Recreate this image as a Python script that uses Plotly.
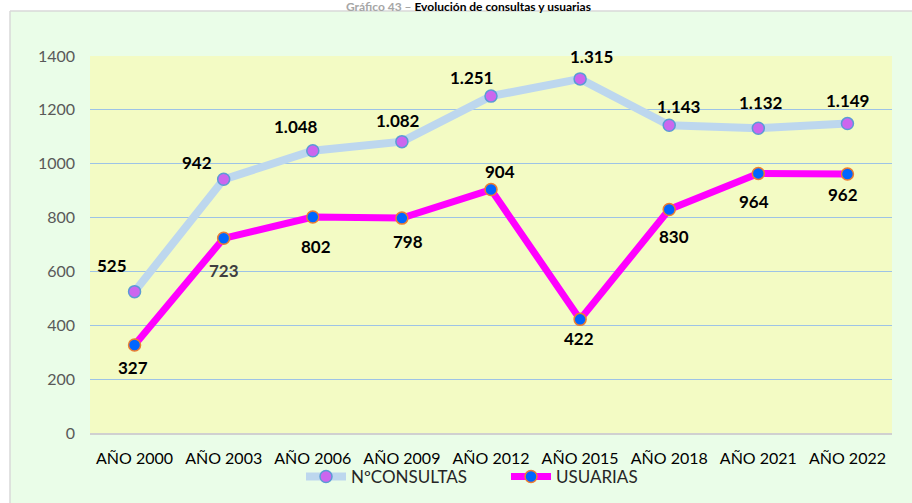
import plotly.graph_objects as go

# Data
years = ["AÑO 2000", "AÑO 2003", "AÑO 2006", "AÑO 2009", "AÑO 2012",
         "AÑO 2015", "AÑO 2018", "AÑO 2021", "AÑO 2022"]
consultas = [525, 942, 1048, 1082, 1251, 1315, 1143, 1132, 1149]
usuarias = [327, 723, 802, 798, 904, 422, 830, 964, 962]
y_ticks = [0, 200, 400, 600, 800, 1000, 1200, 1400]

# Label offsets in pixels (dx, dy; dy positive = downward)
consultas_off = [(-23, -26), (-27, -17), (-17, -24), (-4, -21), (-20, -19),
                 (11, -22), (10, -19), (3, -26), (0, -23)]
usuarias_off = [(-2, 23), (0, 32), (3, 29), (6, 23), (9, -18),
                (-1, 19), (5, 27), (-4, 28), (-4, 21)]

W, H = 912, 503
ML, MR, MT, MB = 90, 20, 56, 70
PW, PH = W - ML - MR, H - MT - MB


def px(x):
    return (x - ML) / PW


def py(y):
    return (H - MB - y) / PH


def fmt(v):
    return f"{v:,}".replace(",", ".")


FONT = "Lato, 'Open Sans', sans-serif"
GREEN = "#EAFDE8"
YELLOW = "#F3FBC4"

fig = go.Figure()
fig.add_trace(go.Scatter(
    x=years, y=consultas, name="NºCONSULTAS", mode="lines+markers",
    line=dict(color="#BDD7EE", width=8),
    marker=dict(size=12, color="#CC66EE", line=dict(color="#5B9BD5", width=1.5)),
))
fig.add_trace(go.Scatter(
    x=years, y=usuarias, name="USUARIAS", mode="lines+markers",
    line=dict(color="#FF00FF", width=7),
    marker=dict(size=12, color="#0066FF", line=dict(color="#ED7D31", width=1.5)),
))

annotations = []
for i, (cat, v) in enumerate(zip(years, consultas)):
    dx, dy = consultas_off[i]
    annotations.append(dict(x=cat, y=v, xref="x", yref="y", text=fmt(v),
                            showarrow=False, xshift=dx, yshift=-dy,
                            font=dict(family=FONT, size=17, color="#000000", weight="bold")))
for i, (cat, v) in enumerate(zip(years, usuarias)):
    dx, dy = usuarias_off[i]
    col = "#3F3F3F" if i == 1 else "#000000"
    annotations.append(dict(x=cat, y=v, xref="x", yref="y", text=fmt(v),
                            showarrow=False, xshift=dx, yshift=-dy,
                            font=dict(family=FONT, size=17, color=col, weight="bold")))

# Title
annotations.append(dict(
    x=px(468), y=py(6), xref="paper", yref="paper", xanchor="center", yanchor="middle",
    showarrow=False,
    text="<span style='color:#A6A6A6'>Gráfico 43 – </span>Evolución de consultas y usuarias",
    font=dict(family=FONT, size=12, color="#000000", weight="bold"),
))

shapes = [
    # white strips outside the chart frame
    dict(type="rect", xref="paper", yref="paper", x0=px(0), x1=px(W), y0=py(11), y1=py(-5),
         fillcolor="white", line=dict(width=0), layer="below"),
    dict(type="rect", xref="paper", yref="paper", x0=px(-5), x1=px(10), y0=py(H + 5), y1=py(-5),
         fillcolor="white", line=dict(width=0), layer="below"),
    # frame border
    dict(type="line", xref="paper", yref="paper", x0=px(10), x1=px(W + 5), y0=py(11), y1=py(11),
         line=dict(color="#D9D9D9", width=1.5), layer="below"),
    dict(type="line", xref="paper", yref="paper", x0=px(10), x1=px(10), y0=py(11), y1=py(H + 5),
         line=dict(color="#D9D9D9", width=1.5), layer="below"),
]

fig.update_layout(
    width=W, height=H,
    margin=dict(l=ML, r=MR, t=MT, b=MB, autoexpand=False),
    paper_bgcolor=GREEN,
    plot_bgcolor=YELLOW,
    font=dict(family=FONT, size=16, color="#595959"),
    showlegend=True,
    legend=dict(orientation="h", x=px(506), xanchor="center", y=py(477), yanchor="middle",
                font=dict(family=FONT, size=17, color="#262626"),
                bgcolor="rgba(0,0,0,0)", itemwidth=40, tracegroupgap=0,
                entrywidth=150, entrywidthmode="pixels"),
    annotations=annotations,
    shapes=shapes,
    xaxis=dict(
        type="category", range=[-0.5, len(years) - 0.5],
        showgrid=False, zeroline=False,
        showline=True, linecolor="#D0D0D0", linewidth=2,
        tickfont=dict(family=FONT, size=16, color="#000000"),
        ticks="", ticklabelstandoff=10,
    ),
    yaxis=dict(
        range=[0, 1400], tickvals=y_ticks,
        showgrid=True, gridcolor="#9DC3E6", gridwidth=1,
        zeroline=False, showline=False,
        tickfont=dict(family=FONT, size=16, color="#595959"),
        ticks="", ticklabelstandoff=14,
    ),
)

fig.write_html("out.html")
